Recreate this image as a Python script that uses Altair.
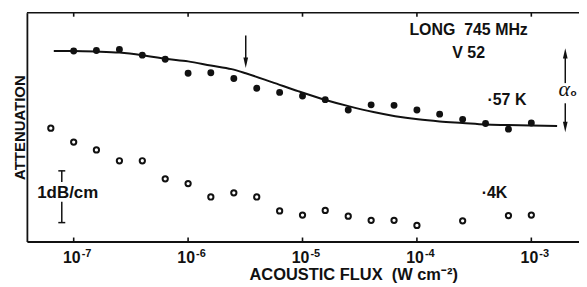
import altair as alt
import pandas as pd

# ---------------- data ----------------
filled_flux = [1.0e-7, 1.58e-7, 2.51e-7, 3.98e-7, 6.31e-7, 1.0e-6, 1.58e-6, 2.51e-6,
               3.98e-6, 6.31e-6, 1.0e-5, 1.58e-5, 2.51e-5, 3.98e-5, 6.31e-5, 1.0e-4,
               1.58e-4, 2.51e-4, 3.98e-4, 6.31e-4, 1.0e-3]
filled_att = [3.68, 3.69, 3.71, 3.60, 3.52, 3.25, 3.26, 3.15, 2.96, 2.88, 2.81, 2.74,
              2.54, 2.64, 2.63, 2.54, 2.46, 2.36, 2.28, 2.17, 2.29]

open_flux = [6.31e-8, 1.0e-7, 1.58e-7, 2.51e-7, 3.98e-7, 6.31e-7, 1.0e-6, 1.58e-6,
             2.51e-6, 3.98e-6, 6.31e-6, 1.0e-5, 1.58e-5, 2.51e-5, 3.98e-5, 6.31e-5,
             1.0e-4, 2.51e-4, 6.31e-4, 1.0e-3]
open_att = [2.19, 1.92, 1.77, 1.56, 1.56, 1.21, 1.12, 0.86, 0.94, 0.86, 0.59, 0.51,
            0.60, 0.49, 0.41, 0.41, 0.31, 0.40, 0.50, 0.51]

curve_flux = [6.7e-8, 1.0e-7, 1.58e-7, 2.51e-7, 3.98e-7, 6.31e-7, 1.0e-6, 1.58e-6,
              2.4e-6, 3.19e-6, 5.4e-6, 9.3e-6, 1.62e-5, 2.57e-5, 4.17e-5, 6.46e-5,
              1.02e-4, 1.58e-4, 2.51e-4, 3.98e-4, 6.17e-4, 1.0e-3, 1.68e-3]
curve_att = [3.68, 3.68, 3.67, 3.65, 3.60, 3.53, 3.48, 3.40, 3.33, 3.25, 3.08, 2.90,
             2.73, 2.61, 2.50, 2.42, 2.36, 2.32, 2.29, 2.26, 2.25, 2.24, 2.23]

tick_values = [1e-7, 1e-6, 1e-5, 1e-4, 1e-3]
tick_exponents = ["-7", "-6", "-5", "-4", "-3"]

x_domain = [3.90e-8, 2.61e-3]
y_domain = [0, 4.42]

# annotations (data coordinates)
label_x = [2.83e-4, 2.83e-4, 6.12e-4, 4.76e-4, 8.87e-8]
label_y = [4.08, 3.635, 2.73, 0.942, 0.942]
label_text = ["LONG\u00a0 745 MHz", "V 52", "\u00b757 K", "\u00b74K", "1dB/cm"]
label_size = [16, 16, 16, 16, 17]

arrow_x = [3.19e-6, 1.98e-3, 1.98e-3]
arrow_y = [3.98, 3.60, 2.67]
arrow_y2 = [3.50, 3.06, 2.25]
head_x = [3.19e-6, 1.98e-3, 1.98e-3]
head_y = [3.452, 3.635, 2.212]
head_dir = ["down", "up", "down"]

alpha_x = [2.18e-3]
alpha_y = [2.817]

bar_x = [7.87e-8, 7.87e-8]
bar_y = [0.365, 1.15]
bar_y2 = [0.77, 1.365]
serif_y = [0.365, 1.365]

# ---------------- chart ----------------
W, H = 555, 230
FONT = "Liberation Sans"
BLACK = "#111111"

xs = alt.Scale(type="log", domain=x_domain, nice=False)
ys = alt.Scale(domain=y_domain, nice=False, zero=False)

x_axis = alt.Axis(
    domain=True, domainColor=BLACK, domainWidth=1.8, ticks=False, labels=False,
    grid=False, title="ACOUSTIC FLUX\u00a0 (W cm\u207b\u00b2)",
    titleFont=FONT, titleFontSize=16.5, titleFontWeight="bold", titleColor=BLACK,
    titleX=328, titleY=38.5, titleBaseline="alphabetic", titleAlign="center")
y_axis = alt.Axis(
    domain=True, domainColor=BLACK, domainWidth=1.8, ticks=False, labels=False,
    grid=False, title="ATTENUATION",
    titleFont=FONT, titleFontSize=15, titleFontWeight="bold", titleColor=BLACK,
    titleAngle=270, titleX=-7, titleY=115, titleBaseline="middle",
    titleAlign="center")


def X(f="x"):
    return alt.X(f"{f}:Q", scale=xs, axis=x_axis)


def Y(f="y"):
    return alt.Y(f"{f}:Q", scale=ys, axis=y_axis)


curve_df = pd.DataFrame({"x": curve_flux, "y": curve_att})
filled_df = pd.DataFrame({"x": filled_flux, "y": filled_att})
open_df = pd.DataFrame({"x": open_flux, "y": open_att})
ticks_df = pd.DataFrame({"x": tick_values, "e": tick_exponents})
labels_df = pd.DataFrame({"x": label_x, "y": label_y, "t": label_text,
                          "s": label_size})
arrow_df = pd.DataFrame({"x": arrow_x, "y": arrow_y, "y2": arrow_y2})
head_df = pd.DataFrame({"x": head_x, "y": head_y, "d": head_dir})
alpha_df = pd.DataFrame({"x": alpha_x, "y": alpha_y})
bar_df = pd.DataFrame({"x": bar_x, "y": bar_y, "y2": bar_y2})
serif_df = pd.DataFrame({"x": [bar_x[0]] * 2, "y": serif_y})
one_df = pd.DataFrame({"a": [0]})

curve = alt.Chart(curve_df).mark_line(
    color=BLACK, strokeWidth=2, interpolate="monotone"
).encode(x=X(), y=Y())

filled = alt.Chart(filled_df).mark_circle(size=48, color=BLACK, opacity=1).encode(
    x=X(), y=Y())

opened = alt.Chart(open_df).mark_point(
    shape="circle", filled=False, size=28, strokeWidth=2, color=BLACK, opacity=1
).encode(x=X(), y=Y())

tick_bot = alt.Chart(ticks_df).mark_rule(color=BLACK, strokeWidth=1.6).encode(
    x=X(), y=alt.value(H - 4), y2=alt.value(H))
tick_top = alt.Chart(ticks_df).mark_rule(color=BLACK, strokeWidth=1.6).encode(
    x=X(), y=alt.value(0), y2=alt.value(4))
top_border = alt.Chart(one_df).mark_rule(color=BLACK, strokeWidth=1.5).encode(
    x=alt.value(0), x2=alt.value(W), y=alt.value(0))

tick_ten = alt.Chart(ticks_df).mark_text(
    align="right", baseline="alphabetic", dx=7, font=FONT, fontSize=16,
    fontWeight="bold", color=BLACK
).encode(x=X(), y=alt.value(H + 22), text=alt.value("10"))
tick_exp = alt.Chart(ticks_df).mark_text(
    align="left", baseline="alphabetic", dx=8, font=FONT, fontSize=11,
    fontWeight="bold", color=BLACK
).encode(x=X(), y=alt.value(H + 16), text="e:N")

labels = alt.Chart(labels_df).mark_text(
    align="center", baseline="middle", font=FONT, fontWeight="bold", color=BLACK
).encode(x=X(), y=Y(), text="t:N",
         size=alt.Size("s:Q", scale=None, legend=None))

arrows = alt.Chart(arrow_df).mark_rule(color=BLACK, strokeWidth=1.5).encode(
    x=X(), y=Y(), y2="y2:Q")

head_down = alt.Chart(head_df).transform_filter(alt.datum.d == "down").mark_point(
    shape="M-0.45,-1L0,1L0.45,-1Z", filled=True, size=110, color=BLACK, opacity=1,
    strokeWidth=0
).encode(x=X(), y=Y())
head_up = alt.Chart(head_df).transform_filter(alt.datum.d == "up").mark_point(
    shape="M-0.45,1L0,-1L0.45,1Z", filled=True, size=110, color=BLACK, opacity=1,
    strokeWidth=0
).encode(x=X(), y=Y())

alpha = alt.Chart(alpha_df).mark_text(
    align="right", baseline="alphabetic", font="Liberation Serif", fontSize=22,
    fontStyle="italic", color=BLACK
).encode(x=X(), y=Y(), text=alt.value("\u03b1"))
alpha_sub = alt.Chart(alpha_df).mark_text(
    align="left", baseline="alphabetic", dx=0.5, font=FONT, fontSize=10,
    fontWeight="bold", color=BLACK
).encode(x=X(), y=Y(), text=alt.value("o"))

bar = alt.Chart(bar_df).mark_rule(color=BLACK, strokeWidth=1.5).encode(
    x=X(), y=Y(), y2="y2:Q")
serifs = alt.Chart(serif_df).mark_tick(
    orient="horizontal", size=7, thickness=1.5, color=BLACK, opacity=1
).encode(x=X(), y=Y())

chart = alt.layer(
    curve, filled, opened, tick_bot, tick_top, top_border, tick_ten, tick_exp,
    labels, arrows, head_down, head_up, alpha, alpha_sub, bar, serifs
).properties(
    width=W, height=H,
    autosize=alt.AutoSizeParams(type="none"),
    padding={"left": 19, "top": 4, "right": 0, "bottom": 45},
    background="white",
).configure_view(stroke=None).configure_axis(grid=False)

chart.save("out.html", embed_options={"renderer": "svg", "actions": False})
